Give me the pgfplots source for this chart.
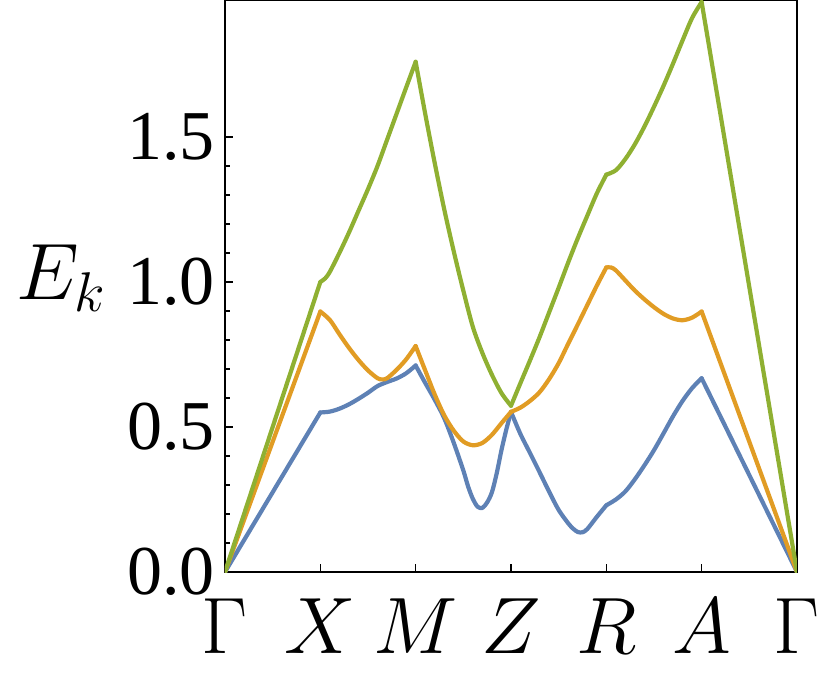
\RequirePackage{fix-cm}
\documentclass[border=0pt]{standalone}
\usepackage{fontspec}
\setmainfont{Liberation Serif}
\usepackage{pgfplots}
\pgfplotsset{compat=1.18}
\definecolor{mblue}{HTML}{5E81B5}
\definecolor{morange}{HTML}{E19C24}
\definecolor{mgreen}{HTML}{8FB032}
\begin{document}
\begin{tikzpicture}
\path[use as bounding box] (-112.5pt,-60.5pt) rectangle (302.5pt,286pt);
\begin{axis}[
  at={(0,0)}, anchor=south west,
  width=286pt, height=286pt, scale only axis,
  xmin=0, xmax=6, ymin=0, ymax=1.972,
  axis line style={line width=0.65pt},
  tick style={black, line width=0.6pt},
  tick align=inside, tick pos=left,
  major tick length=4pt, minor tick length=2.5pt,
  xtick={0,1,2,3,4,5,6},
  xticklabels={$\Gamma$,$X$,$M$,$Z$,$R$,$A$,$\Gamma$},
  ytick={0,0.5,1,1.5},
  minor y tick num=4,
  yticklabel style={font=\fontsize{35}{42}\selectfont, inner sep=0pt, xshift=-5pt,
    /pgf/number format/.cd, fixed, fixed zerofill, precision=1, assume math mode=true},
  yticklabel={\pgfmathprintnumber[fixed, fixed zerofill, precision=1, assume math mode=true]{\tick}},
  xticklabel style={font=\fontsize{40}{48}\selectfont, inner sep=0pt, yshift=-13pt},
  ylabel={$E_k$},
  ylabel style={font=\fontsize{40}{48}\selectfont, rotate=-90, at={(axis description cs:-0.287,0.514)}, anchor=center},
  every axis plot/.append style={line width=2.1pt, line join=round, line cap=round, smooth, tension=0.5},
]
% blue
\addplot[mblue] coordinates {(0,0) (1,0.55)};
\addplot[mblue] coordinates {(1,0.55) (1.1,0.553) (1.2,0.563) (1.3,0.578) (1.4,0.597) (1.5,0.618) (1.6,0.641) (1.7,0.655) (1.8,0.667) (1.9,0.685) (2,0.712)};
\addplot[mblue] coordinates {(2,0.712) (2.1,0.652) (2.2,0.594) (2.3,0.53) (2.4,0.445) (2.5,0.35) (2.55,0.295) (2.6,0.252) (2.65,0.225) (2.7,0.221) (2.75,0.24) (2.8,0.275) (2.85,0.34) (2.9,0.42) (2.95,0.49) (3,0.552)};
\addplot[mblue] coordinates {(3,0.552) (3.1,0.475) (3.2,0.41) (3.3,0.344) (3.4,0.277) (3.5,0.214) (3.6,0.168) (3.65,0.15) (3.7,0.138) (3.75,0.137) (3.8,0.148) (3.9,0.19) (4,0.23)};
\addplot[mblue] coordinates {(4,0.23) (4.1,0.25) (4.2,0.278) (4.3,0.32) (4.4,0.368) (4.5,0.42) (4.6,0.478) (4.7,0.537) (4.8,0.59) (4.9,0.634) (5,0.668)};
\addplot[mblue] coordinates {(5,0.668) (6,0)};
% orange
\addplot[morange] coordinates {(0,0) (1,0.898)};
\addplot[morange] coordinates {(1,0.898) (1.1,0.869) (1.2,0.82) (1.3,0.773) (1.4,0.731) (1.5,0.695) (1.6,0.668) (1.65,0.664) (1.7,0.668) (1.8,0.697) (1.9,0.733) (2,0.779)};
\addplot[morange] coordinates {(2,0.779) (2.1,0.695) (2.2,0.612) (2.3,0.54) (2.4,0.487) (2.5,0.45) (2.6,0.437) (2.7,0.445) (2.8,0.473) (2.9,0.513) (3,0.552)};
\addplot[morange] coordinates {(3,0.552) (3.1,0.567) (3.2,0.59) (3.3,0.62) (3.4,0.665) (3.5,0.72) (3.6,0.787) (3.7,0.853) (3.8,0.92) (3.9,0.987) (4,1.05)};
\addplot[morange] coordinates {(4,1.05) (4.05,1.05) (4.1,1.04) (4.2,1.005) (4.3,0.97) (4.4,0.94) (4.5,0.913) (4.6,0.89) (4.7,0.874) (4.8,0.868) (4.9,0.877) (5,0.898)};
\addplot[morange] coordinates {(5,0.898) (6,0)};
% green
\addplot[mgreen] coordinates {(0,0) (1,1.0)};
\addplot[mgreen] coordinates {(1,1.0) (1.05,1.012) (1.1,1.035) (1.2,1.10) (1.3,1.17) (1.4,1.245) (1.5,1.32) (1.6,1.40) (1.7,1.49) (1.8,1.58) (1.9,1.67) (2,1.759)};
\addplot[mgreen] coordinates {(2,1.759) (2.1,1.58) (2.2,1.41) (2.3,1.25) (2.4,1.105) (2.5,0.97) (2.6,0.845) (2.7,0.755) (2.8,0.68) (2.9,0.617) (3,0.573)};
\addplot[mgreen] coordinates {(3,0.573) (3.1,0.652) (3.2,0.73) (3.3,0.81) (3.4,0.895) (3.5,0.98) (3.6,1.067) (3.7,1.15) (3.8,1.228) (3.9,1.305) (4,1.37)};
\addplot[mgreen] coordinates {(4,1.37) (4.1,1.385) (4.2,1.424) (4.3,1.475) (4.4,1.536) (4.5,1.604) (4.6,1.676) (4.7,1.753) (4.8,1.833) (4.9,1.91) (5,1.965)};
\addplot[mgreen] coordinates {(5,1.965) (6,0)};
\end{axis}
\end{tikzpicture}
\end{document}
